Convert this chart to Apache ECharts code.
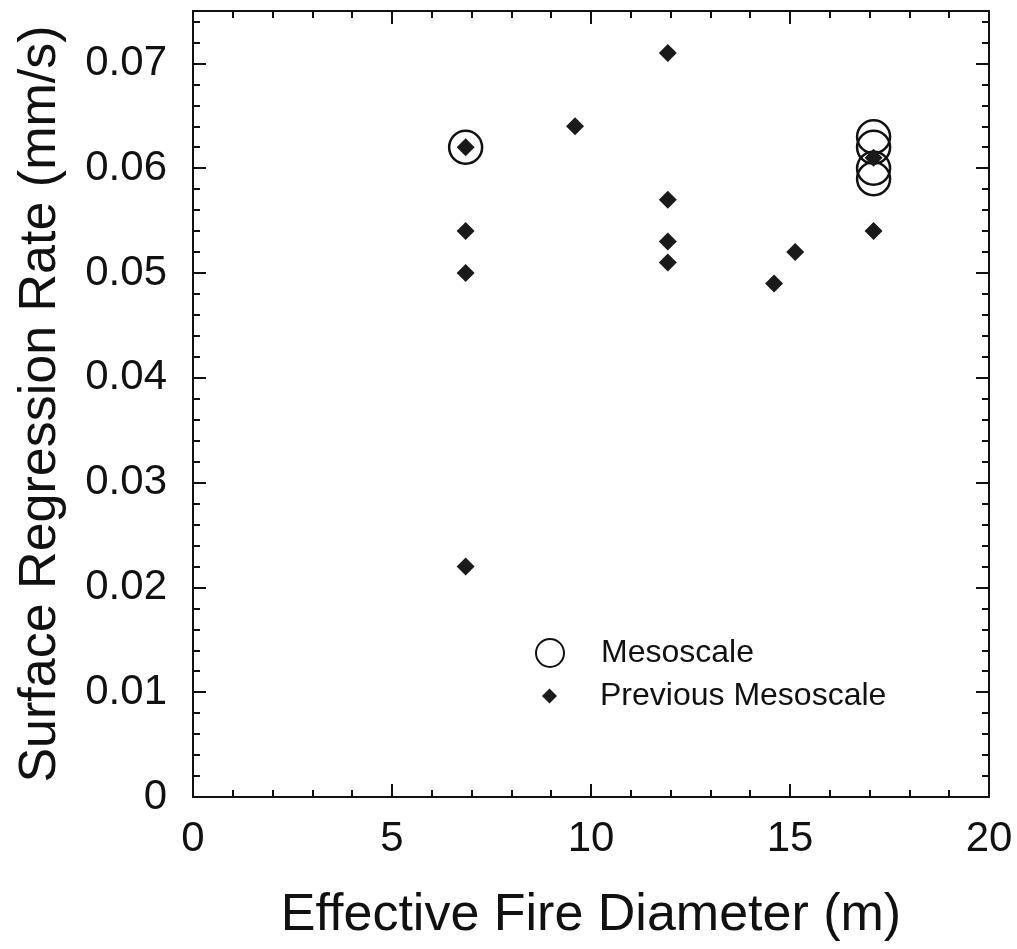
<!DOCTYPE html>
<html>
<head>
<meta charset="utf-8">
<script src="https://cdn.jsdelivr.net/npm/echarts@6/dist/echarts.min.js"></script>
<style>html,body{margin:0;padding:0;background:#fff;}#c{width:1017px;height:949px;}</style>
</head>
<body>
<div id="c"></div>
<script>
// Data
var mesoscale = [[6.85, 0.062], [17.1, 0.063], [17.1, 0.062], [17.1, 0.060], [17.1, 0.059]];
var previousMesoscale = [[6.85, 0.062], [6.85, 0.054], [6.85, 0.050], [6.85, 0.022], [9.6, 0.064],
  [11.93, 0.071], [11.93, 0.057], [11.93, 0.053], [11.93, 0.051], [14.6, 0.049], [15.13, 0.052],
  [17.1, 0.061], [17.1, 0.054]];
var xName = 'Effective Fire Diameter (m)';
var yName = 'Surface Regression Rate (mm/s)';

var FONT = '"Liberation Sans", Arial, Helvetica, sans-serif';
var chart = echarts.init(document.getElementById('c'), null, {renderer: 'canvas'});
var axisLine = {show: true, onZero: false, lineStyle: {color: '#111', width: 2}};
var tick = {show: true, inside: true, length: 13, lineStyle: {color: '#111', width: 2}};
var minor = {show: true, splitNumber: 5, length: 7, lineStyle: {color: '#111', width: 2}};
var lbl = {color: '#111', fontSize: 42, fontFamily: FONT};
chart.setOption({
  backgroundColor: '#fff',
  animation: false,
  grid: {left: 193, right: 28, top: 11, bottom: 152, containLabel: false, outerBoundsMode: 'none'},
  xAxis: [
    {type: 'value', min: 0, max: 20, interval: 5, position: 'bottom',
     axisLine: axisLine, axisTick: tick, minorTick: minor, splitLine: {show: false},
     axisLabel: Object.assign({margin: 21}, lbl),
     name: xName, nameLocation: 'middle', nameGap: 93,
     nameTextStyle: {color: '#111', fontSize: 52, fontFamily: FONT}},
    {type: 'value', min: 0, max: 20, interval: 5, position: 'top',
     axisLine: axisLine, axisTick: tick, minorTick: minor, splitLine: {show: false},
     axisLabel: {show: false}}
  ],
  yAxis: [
    {type: 'value', min: 0, max: 0.075, interval: 0.01, position: 'left',
     axisLine: axisLine, axisTick: tick, minorTick: minor, splitLine: {show: false},
     axisLabel: Object.assign({margin: 26, showMaxLabel: false,
       formatter: function (v) { return v === 0 ? '0' : v.toFixed(2); }}, lbl),
     name: yName, nameLocation: 'middle', nameGap: 126,
     nameTextStyle: {color: '#111', fontSize: 52, fontFamily: FONT}},
    {type: 'value', min: 0, max: 0.075, interval: 0.01, position: 'right',
     axisLine: axisLine, axisTick: tick, minorTick: minor, splitLine: {show: false},
     axisLabel: {show: false}}
  ],
  legend: [
    {data: [{name: 'Mesoscale', icon: 'circle'}], orient: 'vertical', left: 535, top: 637, padding: 0,
     itemWidth: 28, itemHeight: 28,
     itemStyle: {color: 'rgba(0,0,0,0)', borderColor: '#111', borderWidth: 2, opacity: 1},
     textStyle: {color: '#111', fontSize: 32, fontFamily: FONT, lineHeight: 30, padding: [0, 0, 0, 32]}},
    {data: [{name: 'Previous Mesoscale', icon: 'diamond'}], orient: 'vertical', left: 542, top: 680, padding: 0,
     itemWidth: 15, itemHeight: 15,
     itemStyle: {color: '#1a1a1a', borderWidth: 0, opacity: 1},
     textStyle: {color: '#111', fontSize: 32, fontFamily: FONT, lineHeight: 30, padding: [0, 0, 0, 38]}}
  ],
  series: [
    {name: 'Mesoscale', type: 'scatter', data: mesoscale, symbol: 'circle', symbolSize: 33,
     itemStyle: {color: 'rgba(0,0,0,0)', borderColor: '#111', borderWidth: 2.5, opacity: 1}, z: 2},
    {name: 'Previous Mesoscale', type: 'scatter', data: previousMesoscale, symbol: 'diamond', symbolSize: 18,
     itemStyle: {color: '#1a1a1a', opacity: 1}, z: 3}
  ]
});
</script>
</body>
</html>
